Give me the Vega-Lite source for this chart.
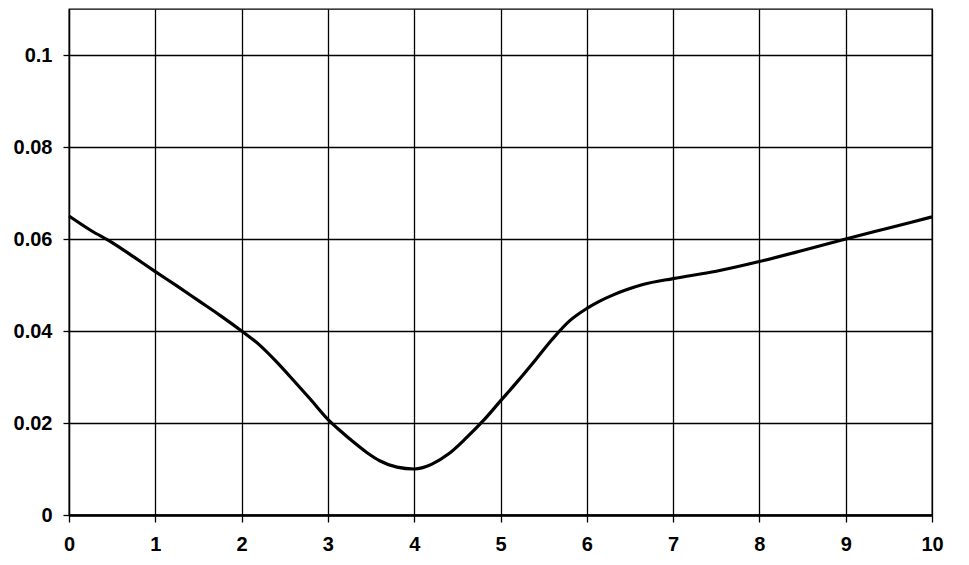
{
  "$schema": "https://vega.github.io/schema/vega-lite/v6.json",
  "width": 863,
  "height": 506,
  "autosize": {"type": "none"},
  "padding": {"left": 69, "top": 9, "right": 37, "bottom": 50},
  "background": "white",
  "config": {
    "view": {"stroke": "black", "strokeWidth": 1.3},
    "font": "Liberation Sans"
  },
  "data": {"values": [
    {"x": 0, "y": 0.065},
    {"x": 0.25, "y": 0.0619},
    {"x": 0.5, "y": 0.0592},
    {"x": 0.75, "y": 0.0561},
    {"x": 1, "y": 0.0529},
    {"x": 1.25, "y": 0.0498},
    {"x": 1.5, "y": 0.0466},
    {"x": 1.75, "y": 0.0434},
    {"x": 2, "y": 0.04},
    {"x": 2.2, "y": 0.0371},
    {"x": 2.4, "y": 0.0334},
    {"x": 2.6, "y": 0.0293},
    {"x": 2.8, "y": 0.0251},
    {"x": 3, "y": 0.0208},
    {"x": 3.15, "y": 0.0182},
    {"x": 3.3, "y": 0.0158},
    {"x": 3.45, "y": 0.0136},
    {"x": 3.6, "y": 0.0118},
    {"x": 3.8, "y": 0.0104},
    {"x": 4, "y": 0.01},
    {"x": 4.1, "y": 0.0103},
    {"x": 4.2, "y": 0.011},
    {"x": 4.4, "y": 0.0133},
    {"x": 4.6, "y": 0.0167},
    {"x": 4.8, "y": 0.0205},
    {"x": 5, "y": 0.0248},
    {"x": 5.2, "y": 0.0291},
    {"x": 5.4, "y": 0.0336},
    {"x": 5.6, "y": 0.0382},
    {"x": 5.8, "y": 0.0422},
    {"x": 6, "y": 0.0449},
    {"x": 6.15, "y": 0.0465},
    {"x": 6.3, "y": 0.0478},
    {"x": 6.45, "y": 0.0489},
    {"x": 6.65, "y": 0.0501},
    {"x": 7, "y": 0.0514},
    {"x": 7.5, "y": 0.053},
    {"x": 8, "y": 0.0551},
    {"x": 8.5, "y": 0.0575},
    {"x": 9, "y": 0.06},
    {"x": 9.5, "y": 0.0624},
    {"x": 10, "y": 0.0648}
  ]},
  "mark": {"type": "line", "color": "black", "strokeWidth": 3.2, "interpolate": "monotone"},
  "encoding": {
    "x": {
      "field": "x", "type": "quantitative",
      "scale": {"domain": [0, 10], "nice": false, "zero": false},
      "axis": {
        "title": null,
        "values": [0, 1, 2, 3, 4, 5, 6, 7, 8, 9, 10],
        "grid": true, "gridColor": "black", "gridOpacity": 1, "gridWidth": 1.3,
        "domainColor": "black", "domainWidth": 2.5,
        "tickColor": "black", "tickSize": 7, "tickWidth": 1.3,
        "labelFont": "Liberation Sans", "labelFontWeight": "bold", "labelFontSize": 20,
        "labelColor": "black", "labelPadding": 12, "labelFlush": false
      }
    },
    "y": {
      "field": "y", "type": "quantitative",
      "scale": {"domain": [0, 0.11], "nice": false},
      "axis": {
        "title": null,
        "values": [0, 0.02, 0.04, 0.06, 0.08, 0.1],
        "format": "~g",
        "grid": true, "gridColor": "black", "gridOpacity": 1, "gridWidth": 1.3,
        "domainColor": "black", "domainWidth": 1.3,
        "tickColor": "black", "tickSize": 6, "tickWidth": 1.3,
        "labelFont": "Liberation Sans", "labelFontWeight": "bold", "labelFontSize": 20,
        "labelColor": "black", "labelPadding": 11, "labelFlush": false
      }
    }
  }
}
